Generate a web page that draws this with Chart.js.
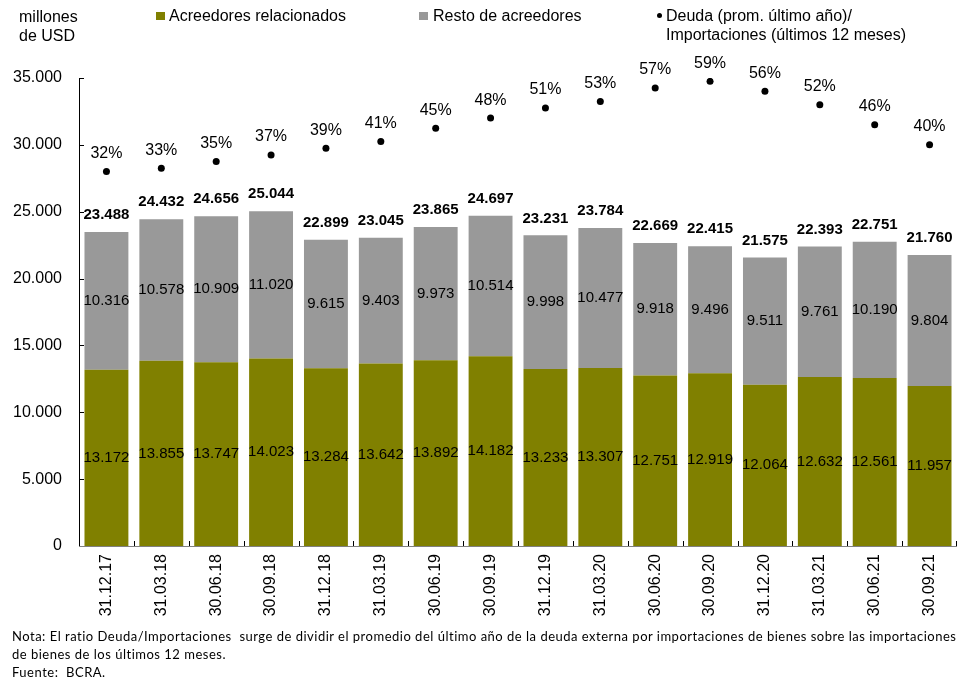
<!DOCTYPE html>
<html>
<head>
<meta charset="utf-8">
<script src="https://cdn.jsdelivr.net/npm/chart.js@4.4.1/dist/chart.umd.min.js"></script>
<style>
  body { margin: 0; background: #fff; }
  #wrap { position: relative; width: 961px; height: 679px; overflow: hidden; font-family: "Liberation Sans", Arial, sans-serif; color: #000; }
  #chart { position: absolute; left: 0; top: 0; }
  .t { position: absolute; font-size: 16px; line-height: 19px; white-space: nowrap; }
  .sq { position: absolute; width: 9px; height: 8px; }
  .dot { position: absolute; width: 5px; height: 5px; border-radius: 50%; background: #000; }
  .nota { position: absolute; left: 12px; font-family: Lato, "Open Sans", sans-serif; font-size: 13px; letter-spacing: 0.5px; line-height: 18px; white-space: nowrap; }
</style>
</head>
<body>
<div id="wrap">
  <canvas id="chart" width="961" height="679"></canvas>

  <div class="t" style="left:19px; top:7px;">millones<br>de USD</div>

  <div class="sq" style="left:156px; top:12px; background:#808000;"></div>
  <div class="t" style="left:169px; top:6px;">Acreedores relacionados</div>

  <div class="sq" style="left:419px; top:12px; background:#999999;"></div>
  <div class="t" style="left:433px; top:6px;">Resto de acreedores</div>

  <div class="dot" style="left:657px; top:13px;"></div>
  <div class="t" style="left:666px; top:6px;">Deuda (prom. último año)/<br>Importaciones (últimos 12 meses)</div>

  <div class="nota" style="top:627px;">Nota: El ratio Deuda/Importaciones&nbsp; surge de dividir el promedio del último año de la deuda externa por importaciones de bienes sobre las importaciones</div>
  <div class="nota" style="top:645px;">de bienes de los últimos 12 meses.</div>
  <div class="nota" style="top:663px;">Fuente:&nbsp; BCRA.</div>
</div>

<script>
// datos
const fechas = ["31.12.17", "31.03.18", "30.06.18", "30.09.18", "31.12.18", "31.03.19", "30.06.19", "30.09.19",
                "31.12.19", "31.03.20", "30.06.20", "30.09.20", "31.12.20", "31.03.21", "30.06.21", "30.09.21"];
const relacionados = [13172, 13855, 13747, 14023, 13284, 13642, 13892, 14182, 13233, 13307, 12751, 12919, 12064, 12632, 12561, 11957];
const resto = [10316, 10578, 10909, 11020, 9615, 9403, 9973, 10514, 9998, 10477, 9918, 9496, 9511, 9761, 10190, 9804];
const totales = [23488, 24432, 24656, 25044, 22899, 23045, 23865, 24697, 23231, 23784, 22669, 22415, 21575, 22393, 22751, 21760];
const ratio = [32, 33, 35, 37, 39, 41, 45, 48, 51, 53, 57, 59, 56, 52, 46, 40];
const yTicks = [0, 5000, 10000, 15000, 20000, 25000, 30000, 35000];

const OLIVA = "#808000";
const GRIS = "#999999";
const FONT = "'Liberation Sans', Arial, sans-serif";

function fmt(v) {
    return String(v).replace(/\B(?=(\d{3})+(?!\d))/g, ".");
}

// ejes con marcas hacia adentro y etiquetas de valores
const etiquetas = {
    id: "etiquetas",
    afterDatasetsDraw(chart) {
        const ctx = chart.ctx;
        const area = chart.chartArea;
        const x = chart.scales.x, y = chart.scales.y, y2 = chart.scales.y2;
        ctx.save();

        // eje Y
        ctx.strokeStyle = "#000";
        ctx.lineWidth = 1;
        ctx.beginPath();
        ctx.moveTo(area.left + 0.5, area.top);
        ctx.lineTo(area.left + 0.5, area.bottom);
        yTicks.forEach(v => {
            const py = Math.round(y.getPixelForValue(v)) + 0.5;
            ctx.moveTo(area.left, py);
            ctx.lineTo(area.left + 5, py);
        });
        ctx.stroke();

        // eje X
        ctx.strokeStyle = "#808080";
        ctx.beginPath();
        ctx.moveTo(area.left, area.bottom + 0.5);
        ctx.lineTo(area.right, area.bottom + 0.5);
        ctx.stroke();
        ctx.strokeStyle = "#000";
        ctx.beginPath();
        for (let i = 0; i < fechas.length; i++) {
            let px = i < fechas.length - 1
                ? (x.getPixelForValue(i) + x.getPixelForValue(i + 1)) / 2
                : area.right - 1;
            px = Math.round(px) + 0.5;
            ctx.moveTo(px, area.bottom);
            ctx.lineTo(px, area.bottom - 5);
        }
        ctx.stroke();

        ctx.fillStyle = "#000";
        ctx.textAlign = "center";
        ctx.textBaseline = "middle";

        fechas.forEach((f, i) => {
            const px = x.getPixelForValue(i);

            ctx.font = "15px " + FONT;
            ctx.fillText(fmt(relacionados[i]), px, y.getPixelForValue(relacionados[i] / 2));
            ctx.fillText(fmt(resto[i]), px, y.getPixelForValue(relacionados[i] + resto[i] / 2));

            ctx.font = "bold 15px " + FONT;
            ctx.fillText(fmt(totales[i]), px, y.getPixelForValue(totales[i]) - 17);

            ctx.font = "16px " + FONT;
            ctx.fillText(ratio[i] + "%", px, y2.getPixelForValue(ratio[i]) - 18);
        });

        ctx.restore();
    }
};

new Chart(document.getElementById("chart"), {
    type: "bar",
    data: {
        labels: fechas,
        datasets: [
            {
                type: "line",
                label: "Deuda (prom. último año)/ Importaciones (últimos 12 meses)",
                data: ratio,
                yAxisID: "y2",
                showLine: false,
                pointRadius: 3.5,
                pointBackgroundColor: "#000",
                pointBorderWidth: 0,
                order: 0
            },
            {
                label: "Acreedores relacionados",
                data: relacionados,
                backgroundColor: OLIVA,
                stack: "deuda",
                order: 1
            },
            {
                label: "Resto de acreedores",
                data: resto,
                backgroundColor: GRIS,
                stack: "deuda",
                order: 1
            }
        ]
    },
    options: {
        responsive: false,
        animation: false,
        devicePixelRatio: 1,
        layout: { padding: { top: 78, right: 1, bottom: 60, left: 0 } },
        datasets: {
            bar: { categoryPercentage: 1, barPercentage: 0.8 }
        },
        plugins: {
            legend: { display: false },
            tooltip: { enabled: false }
        },
        scales: {
            x: {
                stacked: true,
                offset: true,
                grid: { display: false, drawTicks: false },
                border: { display: false },
                ticks: {
                    minRotation: 90,
                    maxRotation: 90,
                    padding: 8,
                    color: "#000",
                    font: { family: FONT, size: 16 }
                },
                afterFit(scale) { scale.height = 73; }
            },
            y: {
                stacked: true,
                min: 0,
                max: 35000,
                grid: { display: false, drawTicks: false },
                border: { display: false },
                ticks: {
                    stepSize: 5000,
                    padding: 17,
                    color: "#000",
                    font: { family: FONT, size: 16 },
                    callback: v => fmt(v)
                },
                afterFit(scale) { scale.width = 79; }
            },
            y2: {
                display: false,
                min: -80,
                max: 60
            }
        }
    },
    plugins: [etiquetas]
});
</script>
</body>
</html>
